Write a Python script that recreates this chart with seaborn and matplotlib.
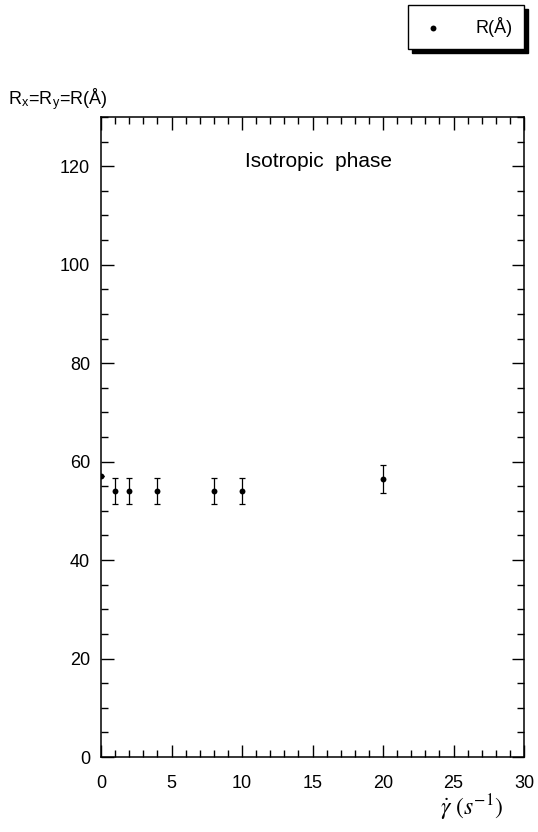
import numpy as np
import pandas as pd
import matplotlib
matplotlib.use('Agg')
import matplotlib.pyplot as plt
import seaborn as sns
from matplotlib.ticker import MultipleLocator

# shear rate (1/s) and radius R (Angstrom) with error
gamma = [0, 1, 2, 4, 8, 10, 20]
radius = [57.0, 54.0, 54.0, 54.0, 54.0, 54.0, 56.5]
radius_err = [0.0, 2.6, 2.6, 2.6, 2.6, 2.6, 2.8]

df = pd.DataFrame({'gamma': gamma, 'R': radius, 'err': radius_err})

sns.set_style('ticks')
plt.rcParams['font.family'] = ['Liberation Sans', 'DejaVu Sans']
plt.rcParams['mathtext.fontset'] = 'stix'
plt.rcParams['text.color'] = 'black'

fig = plt.figure(figsize=(5.38, 8.32), dpi=100)
ax = fig.add_axes([101/538, 75/832, 423/538, 640/832])

ax.errorbar(df['gamma'], df['R'], yerr=df['err'], fmt='none', ecolor='black',
            elinewidth=0.9, capsize=2.5, capthick=0.9, zorder=2)
sns.scatterplot(data=df, x='gamma', y='R', ax=ax, color='black', s=18,
                edgecolor='black', linewidth=0, label='R(Å)', zorder=3)

ax.set_xlim(0, 30)
ax.set_ylim(0, 130)
ax.xaxis.set_major_locator(MultipleLocator(5))
ax.xaxis.set_minor_locator(MultipleLocator(1))
ax.yaxis.set_major_locator(MultipleLocator(20))
ax.yaxis.set_minor_locator(MultipleLocator(5))
ax.tick_params(which='both', direction='in', top=True, right=True, colors='black',
               labelcolor='black', labelsize=13, width=1)
ax.tick_params(which='major', length=9)
ax.tick_params(which='minor', length=5)
ax.tick_params(axis='x', which='major', pad=13)
ax.tick_params(axis='y', which='major', pad=8)
for s in ax.spines.values():
    s.set_linewidth(1.1)
    s.set_color('black')

ax.set_xlabel('')
ax.set_ylabel('')
ax.text(15.4, 121, 'Isotropic  phase', ha='center', va='center', fontsize=15,
        color='black')
fig.text(8/538, 1 - 99/832, r'R$_\mathregular{x}$=R$_\mathregular{y}$=R(Å)',
         ha='left', va='center', fontsize=13, color='black')
fig.text(472/538, 1 - 808/832, r'$\dot{\gamma}\ (s^{-1})$', ha='center',
         va='center', fontsize=17, color='black')

leg = ax.legend(loc='center', bbox_to_anchor=(466/538, 1 - 27/832),
                bbox_transform=fig.transFigure, frameon=True, fancybox=False,
                shadow={'color': 'black', 'alpha': 1, 'ox': 3, 'oy': -3},
                fontsize=13, handlelength=1.5, borderpad=0.65,
                handletextpad=1.6, borderaxespad=0)
leg.get_frame().set_edgecolor('black')
leg.get_frame().set_linewidth(1)
for t in leg.get_texts():
    t.set_color('black')

fig.savefig('out.png', dpi=100)
